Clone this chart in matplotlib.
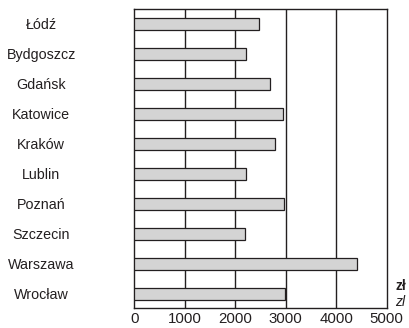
import matplotlib.pyplot as plt

cities = ["Łódź", "Bydgoszcz", "Gdańsk", "Katowice", "Kraków",
          "Lublin", "Poznań", "Szczecin", "Warszawa", "Wrocław"]
salaries = [2470, 2210, 2690, 2945, 2785, 2205, 2970, 2185, 4415, 2995]
xticks = [0, 1000, 2000, 3000, 4000, 5000]

plt.rcParams["font.family"] = ["Liberation Sans", "DejaVu Sans"]
ink = "#231f20"

fig = plt.figure(figsize=(4.1, 3.28), dpi=100)
ax = fig.add_axes([0.3276, 0.061, 0.6155, 0.9116])

pos = list(range(len(cities)))
ax.barh(pos, salaries, height=0.4, color="#d4d4d4", edgecolor=ink,
        linewidth=0.9, zorder=3)

for x in xticks[1:-1]:
    ax.axvline(x, color=ink, linewidth=1.0, zorder=1)

ax.set_xlim(0, 5000)
ax.set_ylim(9.48, -0.5)
ax.set_xticks(xticks)
ax.set_xticklabels([str(v) for v in xticks], fontsize=10.8, color=ink)
ax.set_yticks(pos)
ax.set_yticklabels(cities, fontsize=10.3, color=ink, ha="center")
ax.tick_params(axis="y", length=0, pad=67)
ax.tick_params(axis="x", length=0, pad=3)

for s in ax.spines.values():
    s.set_color(ink)
    s.set_linewidth(1.0)

fig.text(0.964, 0.128, "zł", fontsize=10, fontweight="bold", color=ink,
         ha="left", va="center")
fig.text(0.964, 0.079, "zl", fontsize=10, fontstyle="italic", color=ink,
         ha="left", va="center")

fig.savefig("out.png", dpi=100)
